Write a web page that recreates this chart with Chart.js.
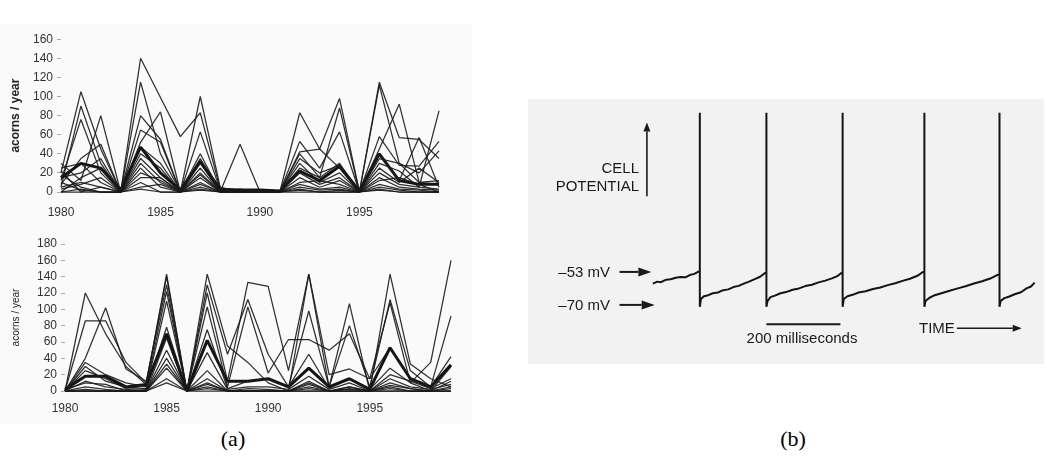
<!DOCTYPE html>
<html>
<head>
<meta charset="utf-8">
<script src="https://cdn.jsdelivr.net/npm/chart.js@4.4.0/dist/chart.umd.min.js"></script>
<style>
  body { margin: 0; width: 1047px; height: 469px; position: relative; overflow: hidden; background: #fff;
         font-family: "Liberation Sans", Arial, sans-serif; }
  .paper { position: absolute; }
  canvas { position: absolute; }
  .lbl { position: absolute; font-size: 15px; line-height: 18px; color: #1a1a1a; white-space: nowrap; }
  .cap { position: absolute; top: 426px; font-family: "Liberation Serif", "DejaVu Serif", serif; font-size: 22px; color: #000; }
</style>
</head>
<body>
<div class="paper" style="left:0;top:24px;width:472px;height:400px;background:#fafafa"></div>
<div class="paper" style="left:528px;top:99px;width:516px;height:265px;background:#f2f2f2"></div>

<canvas id="topChart" width="470" height="200" style="left:0;top:28px"></canvas>
<canvas id="bottomChart" width="470" height="190" style="left:0;top:232px"></canvas>
<canvas id="spikeChart" width="515" height="265" style="left:530px;top:95px"></canvas>

<div class="lbl" style="right:437px;top:263px">–53 mV</div>
<div class="lbl" style="right:437px;top:296px">–70 mV</div>
<div class="lbl" style="right:408px;top:159px;text-align:right">CELL<br>POTENTIAL</div>
<div class="lbl" style="left:802px;top:329px;transform:translateX(-50%)">200 milliseconds</div>
<div class="lbl" style="left:919px;top:319px">TIME</div>

<div class="cap" style="left:233px;transform:translateX(-50%)">(a)</div>
<div class="cap" style="left:793px;transform:translateX(-50%)">(b)</div>

<script>
// --- panel (a): acorns per year, one line per tree, thick line = mean ---
const years = ["1980", "1981", "1982", "1983", "1984", "1985", "1986", "1987", "1988", "1989",
               "1990", "1991", "1992", "1993", "1994", "1995", "1996", "1997", "1998", "1999"];
const yearTicks = ["1980", "1985", "1990", "1995"];

// upper plot
const topTreeA = [5, 90, 30, 0, 140, 99, 58, 83, 3, 0, 0, 0, 40, 15, 88, 0, 112, 30, 10, 12];
const topTreeB = [20, 105, 45, 0, 115, 40, 0, 100, 5, 0, 2, 0, 83, 45, 98, 0, 115, 57, 55, 35];
const topTreeC = [12, 76, 20, 0, 80, 55, 0, 63, 2, 0, 0, 0, 53, 25, 63, 0, 58, 28, 27, 53];
const topTreeD = [30, 12, 80, 0, 65, 52, 0, 40, 0, 0, 0, 0, 35, 20, 28, 0, 45, 92, 10, 8];
const topTreeE = [8, 35, 50, 0, 52, 84, 0, 30, 0, 50, 0, 0, 42, 45, 25, 0, 40, 12, 57, 5];
const topTreeF = [25, 30, 10, 0, 47, 30, 0, 35, 0, 0, 0, 0, 30, 10, 20, 0, 30, 22, 5, 85];
const topTreeG = [15, 20, 35, 0, 40, 25, 0, 25, 0, 0, 0, 0, 25, 15, 30, 0, 35, 30, 20, 43];
const topTreeH = [0, 15, 25, 0, 35, 15, 0, 20, 0, 0, 0, 0, 20, 8, 15, 0, 25, 10, 25, 10];
const topTreeI = [5, 10, 5, 0, 30, 10, 0, 18, 0, 3, 0, 0, 15, 5, 12, 0, 20, 8, 5, 3];
const topTreeJ = [18, 5, 0, 0, 25, 5, 0, 15, 0, 0, 0, 0, 10, 12, 8, 0, 15, 5, 3, 2];
const topTreeK = [3, 8, 15, 0, 20, 12, 0, 10, 0, 0, 0, 0, 8, 3, 5, 0, 12, 15, 8, 0];
const topTreeL = [10, 2, 0, 0, 15, 15, 0, 8, 0, 0, 2, 0, 5, 2, 3, 0, 8, 3, 2, 0];
const topTreeM = [0, 3, 0, 0, 10, 0, 0, 5, 0, 0, 0, 0, 3, 0, 2, 0, 5, 2, 0, 0];
const topTreeN = [22, 0, 5, 0, 5, 8, 0, 3, 0, 0, 0, 0, 2, 0, 0, 0, 3, 0, 0, 0];
const topTreeO = [0, 0, 0, 0, 3, 0, 0, 2, 0, 0, 0, 0, 0, 0, 0, 0, 2, 0, 0, 0];
const topMean  = [15, 30, 25, 2, 47, 20, 2, 32, 3, 2, 2, 1, 22, 12, 27, 1, 40, 12, 8, 8];
const topTrees = [topTreeA, topTreeB, topTreeC, topTreeD, topTreeE, topTreeF, topTreeG, topTreeH,
                  topTreeI, topTreeJ, topTreeK, topTreeL, topTreeM, topTreeN, topTreeO];

// lower plot
const lowTreeA = [0, 120, 70, 30, 8, 143, 0, 143, 55, 35, 10, 0, 143, 5, 107, 0, 143, 33, 15, 5];
const lowTreeB = [0, 86, 86, 35, 10, 140, 0, 130, 45, 112, 45, 5, 98, 5, 80, 5, 112, 25, 5, 92];
const lowTreeC = [0, 40, 102, 27, 12, 130, 0, 120, 12, 133, 128, 25, 143, 20, 27, 15, 108, 10, 35, 160];
const lowTreeD = [0, 35, 20, 10, 5, 122, 0, 103, 5, 103, 22, 63, 63, 50, 70, 15, 53, 15, 5, 42];
const lowTreeE = [0, 30, 12, 5, 3, 110, 0, 75, 3, 12, 15, 5, 45, 3, 15, 2, 28, 10, 0, 30];
const lowTreeF = [0, 25, 15, 3, 2, 78, 0, 47, 2, 5, 5, 2, 18, 2, 10, 0, 20, 12, 3, 15];
const lowTreeG = [0, 12, 5, 2, 0, 65, 0, 25, 0, 3, 2, 0, 12, 0, 5, 0, 15, 5, 2, 8];
const lowTreeH = [0, 5, 2, 0, 0, 50, 0, 15, 0, 0, 0, 0, 8, 0, 3, 0, 10, 3, 0, 5];
const lowTreeI = [0, 2, 0, 0, 0, 40, 0, 8, 0, 0, 0, 0, 5, 0, 2, 0, 5, 0, 0, 3];
const lowTreeJ = [0, 0, 0, 0, 0, 33, 0, 5, 0, 0, 0, 0, 3, 0, 0, 0, 3, 0, 0, 0];
const lowTreeK = [0, 0, 0, 0, 0, 15, 0, 3, 0, 0, 0, 0, 0, 0, 0, 0, 0, 0, 0, 0];
const lowTreeL = [2, 10, 8, 0, 0, 28, 0, 10, 0, 0, 0, 0, 10, 0, 5, 0, 7, 3, 0, 12];
const lowTreeM = [0, 0, 0, 0, 0, 10, 0, 0, 0, 0, 0, 0, 0, 0, 0, 0, 0, 0, 0, 0];
const lowMean  = [2, 18, 18, 5, 8, 70, 0, 62, 12, 12, 15, 5, 28, 5, 15, 2, 53, 15, 5, 32];
const lowTrees = [lowTreeA, lowTreeB, lowTreeC, lowTreeD, lowTreeE, lowTreeF, lowTreeG,
                  lowTreeH, lowTreeI, lowTreeJ, lowTreeK, lowTreeL, lowTreeM];

// --- panel (b): membrane potential trace (ms, mV) ---
const traceMs = [0, 12, 22, 36, 48, 62, 75, 88, 100, 112, 127,
  127, 127,
  130, 138, 150, 162, 176, 190, 204, 218, 232, 246, 260, 274, 290, 307,
  307, 307,
  310, 318, 330, 345, 360, 378, 395, 412, 430, 448, 466, 484, 500, 513,
  513, 513,
  516, 526, 540, 556, 575, 595, 615, 635, 655, 675, 695, 715, 734,
  734, 734,
  737, 748, 762, 780, 800, 822, 845, 868, 890, 912, 937,
  937, 937,
  940, 950, 962, 978, 995, 1010, 1022, 1032];
const traceMv = [-59, -58, -58.3, -57, -56.8, -56, -55.6, -55.8, -54.6, -54, -52.5,
  29, -71,
  -67, -65.5, -65, -64, -63.6, -62.4, -62, -60.8, -60.2, -59, -58, -56.8, -55.5, -53,
  29, -71,
  -68, -66, -65.2, -64, -63.4, -62.2, -61.5, -60.3, -59.6, -58.4, -57.5, -56.3, -55, -53,
  29, -71,
  -67, -65.5, -64.8, -63.6, -63, -61.8, -61, -59.8, -58.8, -57.6, -56.5, -55, -52.5,
  29, -71,
  -68, -66.3, -65, -64, -62.8, -61.6, -60.4, -59, -57.8, -56.4, -54,
  29, -71,
  -68, -66.5, -65.8, -64.5, -63.5, -61.5, -60.5, -58.5];
const markLevels = [-53, -70];   // arrows on the left
const scaleBarMs = [307, 507];   // 200 ms bar

const tickFont = { family: "'Liberation Sans', Arial, sans-serif", size: 12 };

function acornChart(id, trees, mean, yMax, cfg) {
  const datasets = trees.map(v => ({
    data: v, borderColor: "rgba(25,25,25,0.9)", borderWidth: 1.25, clip: false,
  }));
  datasets.push({ data: mean, borderColor: "#141414", borderWidth: 3, clip: false });
  return new Chart(document.getElementById(id), {
    type: "line",
    data: { labels: years, datasets },
    options: {
      responsive: false,
      animation: false,
      layout: { padding: { top: cfg.padTop, right: cfg.padRight, left: 0, bottom: 0 } },
      elements: { point: { radius: 0 }, line: { tension: 0, borderJoinStyle: "bevel" } },
      plugins: { legend: { display: false }, tooltip: { enabled: false } },
      scales: {
        x: {
          offset: false,
          border: { display: false },
          grid: { display: false, drawTicks: false },
          ticks: {
            autoSkip: false, maxRotation: 0, padding: cfg.xPad, color: "#333", font: tickFont,
            callback(value) {
              const lab = this.getLabelForValue(value);
              return yearTicks.includes(lab) ? lab : "";
            },
          },
          afterFit(scale) { scale.height = cfg.xHeight; },
        },
        y: {
          min: 0, max: yMax,
          border: { display: false },
          grid: { drawOnChartArea: false, drawTicks: true, tickLength: 4, color: "#aaa" },
          ticks: { stepSize: 20, autoSkip: false, padding: 4, color: "#333", font: tickFont },
          title: {
            display: true, text: "acorns / year", color: "#222",
            font: { family: "'Liberation Sans', Arial, sans-serif", size: cfg.titleSize, weight: cfg.titleWeight },
            padding: { top: cfg.titlePad, bottom: 0 },
          },
          afterFit(scale) { scale.width = cfg.yWidth; },
        },
      },
    },
  });
}

acornChart("topChart", topTrees, topMean, 160, {
  padTop: 10, padRight: 31, xHeight: 36, yWidth: 61, xPad: 13, titleSize: 12, titleWeight: "bold", titlePad: 8,
});
acornChart("bottomChart", lowTrees, lowMean, 180, {
  padTop: 12, padRight: 19, xHeight: 31, yWidth: 65, xPad: 10, titleSize: 10, titleWeight: "normal", titlePad: 10,
});

// arrows, scale bar for the spike trace
function arrow(ctx, x1, y1, x2, y2, head, half) {
  const a = Math.atan2(y2 - y1, x2 - x1);
  const bx = x2 - head * Math.cos(a), by = y2 - head * Math.sin(a);
  ctx.beginPath();
  ctx.moveTo(x1, y1);
  ctx.lineTo(bx, by);
  ctx.stroke();
  ctx.beginPath();
  ctx.moveTo(x2, y2);
  ctx.lineTo(bx + half * Math.sin(a), by - half * Math.cos(a));
  ctx.lineTo(bx - half * Math.sin(a), by + half * Math.cos(a));
  ctx.closePath();
  ctx.fill();
}

const spikeMarks = {
  id: "spikeMarks",
  afterDatasetsDraw(chart) {
    const { ctx } = chart;
    const x = chart.scales.x, y = chart.scales.y;
    ctx.save();
    ctx.strokeStyle = "#1a1a1a";
    ctx.fillStyle = "#1a1a1a";
    ctx.lineWidth = 2;
    arrow(ctx, x.getPixelForValue(-90), y.getPixelForValue(markLevels[0]),
               x.getPixelForValue(-4), y.getPixelForValue(markLevels[0]), 13, 4.5);
    arrow(ctx, x.getPixelForValue(-90), y.getPixelForValue(markLevels[1]),
               x.getPixelForValue(5), y.getPixelForValue(markLevels[1]), 13, 4.5);
    ctx.lineWidth = 1.6;
    arrow(ctx, x.getPixelForValue(-16), y.getPixelForValue(-14),
               x.getPixelForValue(-16), y.getPixelForValue(24), 9, 3.5);
    arrow(ctx, x.getPixelForValue(822), y.getPixelForValue(-82),
               x.getPixelForValue(997), y.getPixelForValue(-82), 9, 3.5);
    ctx.lineWidth = 2;
    ctx.beginPath();
    ctx.moveTo(x.getPixelForValue(scaleBarMs[0]), y.getPixelForValue(-80));
    ctx.lineTo(x.getPixelForValue(scaleBarMs[1]), y.getPixelForValue(-80));
    ctx.stroke();
    ctx.restore();
  },
};

new Chart(document.getElementById("spikeChart"), {
  type: "line",
  data: {
    datasets: [{
      data: traceMs.map((t, i) => ({ x: t, y: traceMv[i] })),
      borderColor: "#141414", borderWidth: 2, pointRadius: 0, tension: 0,
      borderJoinStyle: "bevel",
    }],
  },
  options: {
    responsive: false,
    animation: false,
    layout: { padding: 0 },
    plugins: { legend: { display: false }, tooltip: { enabled: false } },
    scales: {
      x: { type: "linear", min: -332, max: 1060, display: false },
      y: { min: -98.4, max: 38.2, display: false },
    },
  },
  plugins: [spikeMarks],
});
</script>
</body>
</html>
